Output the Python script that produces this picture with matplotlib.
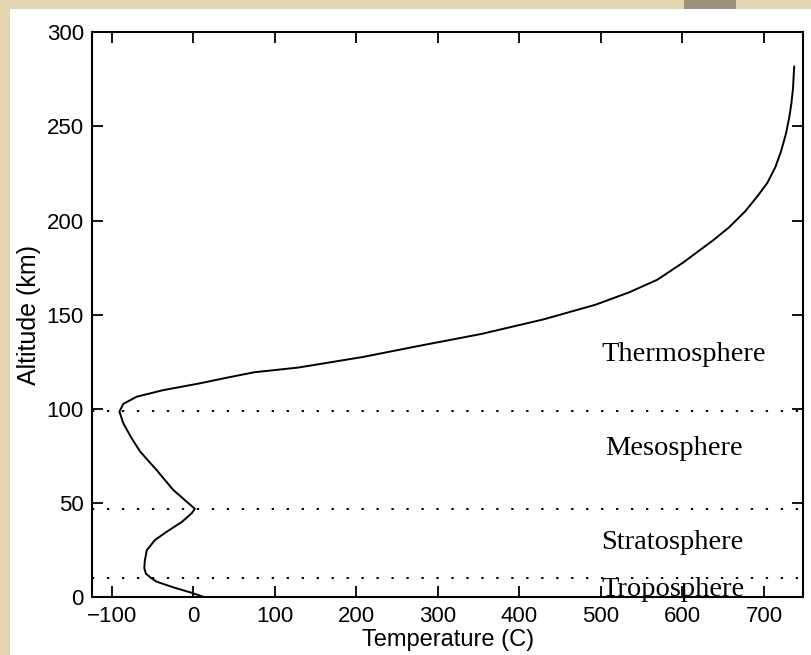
import matplotlib.pyplot as plt
from matplotlib.patches import Rectangle

# temperature profile (altitude in km, temperature in C)
altitude = [0.3, 2.4, 5.3, 8.3, 10, 12.5, 15.4, 19, 25, 30.4, 34.8, 40, 44.6, 47,
            50, 57, 67.6, 77.3, 84.4, 92.4, 98.6, 102.7, 106.5, 110, 113.6, 116.5,
            119.5, 122, 127.6, 133, 139.8, 147.5, 155.3, 162, 168.6, 177.5, 189.7,
            196.4, 205, 213, 220, 228.5, 237, 246.3, 255, 262, 270, 281.8]
temperature = [12, -2, -24.5, -45, -51, -58, -60, -59.5, -57, -47, -32.6, -14, -2, 2,
               -6, -24.5, -45, -65, -75.5, -85.8, -90.5, -85.8, -69.4, -36.8, 8, 40,
               75, 129, 208, 271, 353, 429, 493, 535, 569, 600, 638,
               657, 677, 692, 704, 714, 721, 727, 731, 733.5, 735.5, 737]

layer_bounds = [10, 47, 99]
layer_names = ["Thermosphere", "Mesosphere", "Stratosphere", "Troposphere"]
label_x = [500, 505, 500, 500]
label_y = [125.6, 75.6, 25.5, 0.9]

xticks = [-100, 0, 100, 200, 300, 400, 500, 600, 700]
yticks = [0, 50, 100, 150, 200, 250, 300]

fig = plt.figure(figsize=(8.11, 6.55), dpi=100, facecolor="#e3d6b2")
# white panel behind the plot
fig.patches.append(Rectangle((10/811, 0), 1, 1 - 9/655, transform=fig.transFigure,
                             facecolor="white", edgecolor="none", zorder=-5))
fig.patches.append(Rectangle((684/811, 1 - 9/655), 52/811, 9/655, transform=fig.transFigure,
                             facecolor="#9c927c", edgecolor="none", zorder=-5))

ax = fig.add_axes([92.3/811, 57.7/655, 710.7/811, 565/655])
ax.set_zorder(2)
ax.plot(temperature, altitude, color="black", lw=1.4)

for yb in layer_bounds:
    ax.axhline(yb, color="black", lw=1.4, linestyle=(0, (1.2, 6.5)))

for name, lx, ly in zip(layer_names, label_x, label_y):
    ax.text(lx, ly, name, family="Liberation Serif", fontsize=20.5,
            ha="left", va="baseline", clip_on=False)

ax.set_xlim(-123.8, 747.8)
ax.set_ylim(0, 300)
ax.set_xticks(xticks)
ax.set_yticks(yticks)
ax.tick_params(direction="in", length=8, width=1.3, top=True, right=True,
               labelsize=16, pad=6)
for lab in ax.get_xticklabels() + ax.get_yticklabels():
    lab.set_family("Liberation Sans")
for s in ax.spines.values():
    s.set_linewidth(1.5)

ax.set_xlabel("Temperature (C)", family="Liberation Sans", fontsize=17, labelpad=2)
ax.set_ylabel("Altitude (km)", family="Liberation Sans", fontsize=18, labelpad=4)

fig.savefig("out.png", dpi=100, facecolor=fig.get_facecolor())
